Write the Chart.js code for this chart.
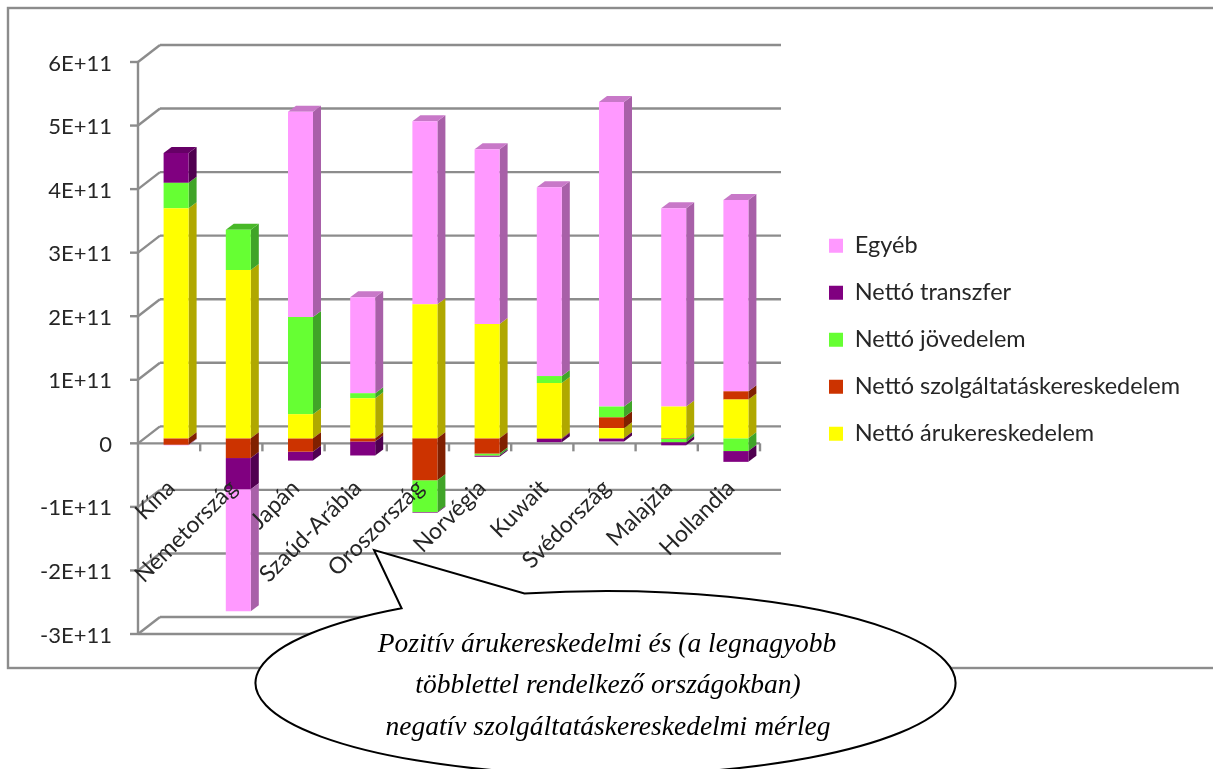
<!DOCTYPE html>
<html>
<head>
<meta charset="utf-8">
<style>
  html, body { margin: 0; padding: 0; background: #fff; overflow: hidden; }
  canvas { display: block; }
</style>
<script src="https://cdn.jsdelivr.net/npm/chart.js@4/dist/chart.umd.min.js"></script>
</head>
<body>
<canvas id="chart" width="1213" height="769"></canvas>
<script>
const countries = ["Kína", "Németország", "Japán", "Szaúd-Arábia", "Oroszország", "Norvégia", "Kuwait", "Svédország", "Malajzia", "Hollandia"];

// values, in units of 1E+11. Excel stacks positive and
// negative parts separately around zero, same as Chart.js does
const aruUnit = 1e11;
const aru = [3.62, 2.65, 0.38, 0.63, 2.11, 1.80, 0.87, 0.16, 0.50, 0.61];
const szolg = [-0.10, -0.31, -0.21, -0.05, -0.66, -0.24, -0.01, 0.17, -0.01, 0.13];
const jov = [0.40, 0.63, 1.53, 0.08, -0.50, -0.03, 0.11, 0.17, -0.05, -0.20];
const transzfer = [0.47, -0.49, -0.14, -0.22, -0.01, -0.02, -0.05, -0.05, -0.05, -0.17];
const egyeb = [-0.01, -1.92, 3.23, 1.51, 2.88, 2.75, 2.97, 4.79, 3.12, 3.01];

const seriesNames = ["Nettó árukereskedelem", "Nettó szolgáltatáskereskedelem", "Nettó jövedelem", "Nettó transzfer", "Egyéb"];
const seriesColors = ["#ffff00", "#cc3300", "#66ff33", "#800080", "#ff99ff"];
const sideColors = ["#b0a800", "#802000", "#40a428", "#500050", "#a860a8"];
const topColors = ["#cccc00", "#a02800", "#48b828", "#660066", "#c878c8"];

const yTickLabels = { "6": "6E+11", "5": "5E+11", "4": "4E+11", "3": "3E+11", "2": "2E+11", "1": "1E+11", "0": "0", "-1": "-1E+11", "-2": "-2E+11", "-3": "-3E+11" };

const calloutLines = ["Pozitív árukereskedelmi és (a legnagyobb", "többlettel rendelkező országokban)", "negatív szolgáltatáskereskedelmi mérleg"];

const gray = "#8c8c8c";

// the library's frame is where the bars stand: middle of the 3D floor.
// front axis sits 7 left / 5 below that, back wall 15 right / 12 above
const frontDx = -7, frontDy = 5, backDx = 15, backDy = -12;
const barDepthX = 8, barDepthY = -6;

function line(ctx, x1, y1, x2, y2) {
  ctx.beginPath();
  ctx.moveTo(x1, y1);
  ctx.lineTo(x2, y2);
  ctx.stroke();
}

function poly(ctx, pts, color) {
  ctx.fillStyle = color;
  ctx.beginPath();
  pts.forEach((p, i) => (i ? ctx.lineTo(p[0], p[1]) : ctx.moveTo(p[0], p[1])));
  ctx.closePath();
  ctx.fill();
}

const wallsPlugin = {
  id: "walls",
  beforeDatasetsDraw(chart) {
    const ctx = chart.ctx;
    const y = chart.scales.y, x = chart.scales.x;
    const left = chart.chartArea.left, right = chart.chartArea.right;
    ctx.save();

    // outer frame of the chart object
    ctx.strokeStyle = gray;
    ctx.lineWidth = 2.4;
    ctx.strokeRect(8, 8, 1220, 660);

    y.ticks.forEach((t) => {
      const py = y.getPixelForValue(t.value);
      line(ctx, left + frontDx - 8, py + frontDy, left + frontDx, py + frontDy);
      line(ctx, left + frontDx, py + frontDy, left + backDx, py + backDy);
      line(ctx, left + backDx, py + backDy, right + backDx - 1, py + backDy);
    });
    line(ctx, left + frontDx, y.getPixelForValue(6 * aruUnit) + frontDy, left + frontDx, y.getPixelForValue(-3 * aruUnit) + frontDy);

    // front edge of the floor and the bottom one, with category ticks on the floor
    const zero = y.getPixelForValue(0) + frontDy;
    const bottom = y.getPixelForValue(-3 * aruUnit) + frontDy;
    line(ctx, left + frontDx, zero, right + frontDx, zero);
    line(ctx, left + frontDx, bottom, right + frontDx, bottom);
    countries.forEach((c, i) => {
      const tx = x.getPixelForValue(i) + frontDx + (right - left) / countries.length / 2;
      line(ctx, tx, zero, tx, zero + 8);
    });

    // side and top faces of the columns
    const count = countries.length;
    for (let c = 0; c < count; c++) {
      let topSeries = -1;
      chart.data.datasets.forEach((ds, s) => {
        const bar = chart.getDatasetMeta(s).data[c];
        const yTop = Math.min(bar.y, bar.base), yBot = Math.max(bar.y, bar.base);
        const xr = bar.x + bar.width / 2;
        poly(ctx, [[xr, yTop], [xr + barDepthX, yTop + barDepthY], [xr + barDepthX, yBot + barDepthY], [xr, yBot]], sideColors[s]);
        if (ds.data[c] > 0) topSeries = s;
      });
      if (topSeries >= 0) {
        const bar = chart.getDatasetMeta(topSeries).data[c];
        const xl = bar.x - bar.width / 2, xr = bar.x + bar.width / 2;
        poly(ctx, [[xl, bar.y], [xl + barDepthX, bar.y + barDepthY], [xr + barDepthX, bar.y + barDepthY], [xr, bar.y]], topColors[topSeries]);
      }
    }
    ctx.restore();
  },
  afterDraw(chart) {
    const ctx = chart.ctx;
    ctx.save();
    // speech bubble over the chart, runs off the bottom of the page
    const cx = 605.5, cy = 683, rx = 350, ry = 92;
    ctx.beginPath();
    ctx.ellipse(cx, cy, rx, ry, 0, Math.atan2((608 - cy) / ry, (401 - cx) / rx), Math.atan2((593 - cy) / ry, (524 - cx) / rx), true);
    ctx.lineTo(374, 550);
    ctx.closePath();
    ctx.fillStyle = "#fff";
    ctx.fill();
    ctx.strokeStyle = "#000";
    ctx.lineWidth = 2;
    ctx.stroke();

    ctx.fillStyle = "#000";
    ctx.font = "italic 27.5px 'Liberation Serif'";
    ctx.textAlign = "center";
    ctx.textBaseline = "alphabetic";
    ctx.fillText(calloutLines[0], 607, 652);
    ctx.fillText(calloutLines[1], 608, 693);
    ctx.fillText(calloutLines[2], 608, 735);
    ctx.restore();
  },
  afterLayout(chart) {
    // legend sits right of the plot, out of the library's layout flow
    const lg = chart.legend;
    const w = lg.width, h = lg.height;
    lg.left = 829 - 23.5;
    lg.top = 210.5;
    lg.right = lg.left + w + 100;
    lg.bottom = lg.top + h + 40;
    lg.width = w + 100;
  },
};

function makeDatasets() {
  const values = [aru, szolg, jov, transzfer, egyeb];
  return seriesNames.map((name, i) => ({
    label: name,
    data: values[i].map((v) => v * aruUnit),
    backgroundColor: seriesColors[i],
    borderWidth: 0,
    categoryPercentage: 1,
    barPercentage: 0.402,
  }));
}

new Chart(document.getElementById("chart").getContext("2d"), {
  type: "bar",
  data: { labels: countries, datasets: makeDatasets() },
  plugins: [wallsPlugin],
  options: {
    responsive: false,
    animation: false,
    layout: { padding: { top: 57, bottom: 140, left: 0, right: 446 } },
    plugins: {
      tooltip: { enabled: false },
      legend: {
        position: "chartArea",
        align: "start",
        reverse: true,
        labels: {
          boxWidth: 14,
          boxHeight: 14,
          padding: 23.5,
          color: "#262626",
          font: { family: "Lato", size: 23.5 },
        },
      },
    },
    scales: {
      x: {
        stacked: true,
        position: { y: 0 },
        grid: { display: false, drawTicks: false },
        border: { display: false },
        ticks: {
          z: 1,
          autoSkip: false,
          minRotation: 45,
          maxRotation: 45,
          padding: 36,
          labelOffset: -5,
          color: "#262626",
          font: { family: "Lato", size: 23 },
        },
      },
      y: {
        stacked: true,
        min: -3 * aruUnit,
        max: 6 * aruUnit,
        afterFit(s) { s.width = 145; },
        grid: { display: false, drawTicks: false },
        border: { display: false },
        ticks: {
          stepSize: aruUnit,
          padding: 33,
          labelOffset: 6.5,
          color: "#262626",
          font: { family: "Lato", size: 22 },
          callback: (v) => yTickLabels[String(Math.round(v / aruUnit))],
        },
      },
    },
  },
});
</script>
</body>
</html>
